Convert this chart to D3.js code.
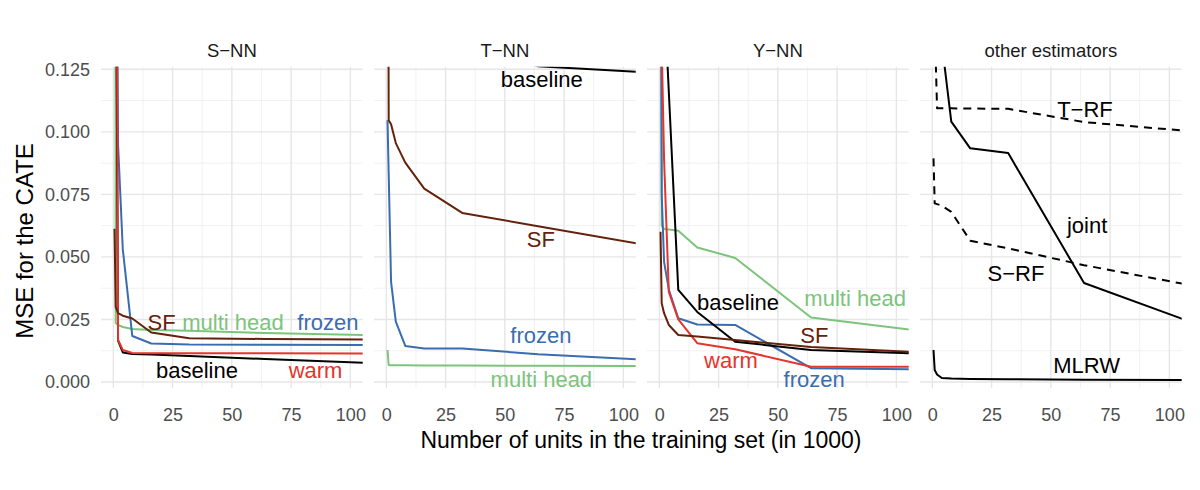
<!DOCTYPE html>
<html>
<head>
<meta charset="utf-8">
<script src="https://cdn.jsdelivr.net/npm/d3@7"></script>
<style>
  html, body { margin: 0; padding: 0; background: #ffffff; }
  svg { display: block; font-family: "Liberation Sans", Arial, Helvetica, sans-serif; }
</style>
</head>
<body>
<script>
// ---------------- data ----------------
const xValues = [0.5, 1, 2, 4, 8, 16, 32, 64, 128]; // training units (in 1000)
const panelNames = ["S\u2212NN", "T\u2212NN", "Y\u2212NN", "other estimators"];
const xTicks = [0, 25, 50, 75, 100];
const xMinor = [12.5, 37.5, 62.5, 87.5];
const yTicks = [0, 0.025, 0.05, 0.075, 0.1, 0.125];
const yMinor = [0.0125, 0.0375, 0.0625, 0.0875, 0.1125];

// S-NN
const snnMulti    = [0.6, 0.0236, 0.0228, 0.0220, 0.0212, 0.0208, 0.0205, 0.0196, 0.0184];
const snnFrozen   = [0.5, 0.25, 0.095, 0.053, 0.0184, 0.0154, 0.0150, 0.0149, 0.0147];
const snnBaseline = [0.5, 0.2, 0.0165, 0.0118, 0.0112, 0.0110, 0.0104, 0.0092, 0.0069];
const snnWarm     = [0.6, 0.3, 0.0168, 0.0128, 0.0116, 0.0115, 0.0115, 0.0115, 0.0113];
const snnSF       = [0.0613, 0.0300, 0.0275, 0.0265, 0.0254, 0.0198, 0.0175, 0.0172, 0.0168];
// T-NN
const tnnBaseline = [0.6, 0.5, 0.4, 0.3, 0.2, 0.15, 0.135, 0.1262, 0.1228];
const tnnSF       = [0.3, 0.1046, 0.1030, 0.0955, 0.0877, 0.0773, 0.0676, 0.0623, 0.0517];
const tnnFrozen   = [0.1046, 0.083, 0.040, 0.0241, 0.0144, 0.0134, 0.0134, 0.0111, 0.0080];
const tnnMulti    = [0.0128, 0.0068, 0.0067, 0.0067, 0.0067, 0.0066, 0.0066, 0.0065, 0.0063];
// Y-NN
const ynnMulti    = [0.6, 0.0625, 0.0612, 0.0610, 0.0605, 0.0538, 0.0496, 0.0258, 0.0183];
const ynnFrozen   = [0.2, 0.075, 0.048, 0.037, 0.0255, 0.0230, 0.0228, 0.0055, 0.0049];
const ynnBaseline = [0.6, 0.4, 0.156, 0.116, 0.0368, 0.0280, 0.0161, 0.0128, 0.0108];
const ynnWarm     = [0.5, 0.135, 0.089, 0.036, 0.025, 0.0155, 0.0131, 0.0061, 0.0061];
const ynnSF       = [0.0601, 0.0315, 0.0275, 0.0228, 0.0188, 0.0182, 0.0168, 0.0140, 0.0110];
// other estimators
const otherTRF    = [0.25, 0.143, 0.1094, 0.1094, 0.1094, 0.1093, 0.1092, 0.1039, 0.0987];
const otherJoint  = [0.5, 0.4, 0.3, 0.1354, 0.1041, 0.0934, 0.0915, 0.0396, 0.0174];
const otherSRF    = [0.0894, 0.0714, 0.0711, 0.0705, 0.0680, 0.0565, 0.0534, 0.0467, 0.0353];
const otherMLRW   = [0.0128, 0.0048, 0.0030, 0.0016, 0.0014, 0.0012, 0.0011, 0.0009, 0.0008];

// direct labels (text, x in 1000 units, y in MSE)
const snnLabels = [["SF", 20.4, 0.0208, "sf"], ["multi head", 50.5, 0.0208, "multi"], ["frozen", 90.5, 0.0208, "frozen"],
                   ["baseline", 35.3, 0.0016, "baseline"], ["warm", 85.3, 0.0016, "warm"]];
const tnnLabels = [["baseline", 65.6, 0.1180, "baseline"], ["SF", 65.2, 0.0541, "sf"],
                   ["frozen", 65.2, 0.0155, "frozen"], ["multi head", 65.4, -0.0019, "multi"]];
const ynnLabels = [["baseline", 33.2, 0.0288, "baseline"], ["multi head", 82.6, 0.0304, "multi"],
                   ["SF", 65.4, 0.0155, "sf"], ["warm", 30.2, 0.0055, "warm"], ["frozen", 65.3, -0.0019, "frozen"]];
const otherLabels = [["T\u2212RF", 64.4, 0.1061, "baseline"], ["joint", 65.3, 0.0597, "baseline"],
                     ["S\u2212RF", 35.3, 0.0405, "baseline"], ["MLRW", 65.1, 0.0035, "baseline"]];

// ---------------- styles ----------------
const colors = { baseline: "#000000", sf: "#64220c", multi: "#7cc47c", frozen: "#3a6db0", warm: "#e5342b" };

const panels = [
  { name: panelNames[0], labels: snnLabels, series: [
      { v: snnMulti, c: "multi" }, { v: snnFrozen, c: "frozen" }, { v: snnBaseline, c: "baseline" },
      { v: snnWarm, c: "warm" }, { v: snnSF, c: "sf" } ] },
  { name: panelNames[1], labels: tnnLabels, series: [
      { v: tnnMulti, c: "multi" }, { v: tnnFrozen, c: "frozen" }, { v: tnnBaseline, c: "baseline" },
      { v: tnnSF, c: "sf" } ] },
  { name: panelNames[2], labels: ynnLabels, series: [
      { v: ynnMulti, c: "multi" }, { v: ynnFrozen, c: "frozen" }, { v: ynnBaseline, c: "baseline" },
      { v: ynnWarm, c: "warm" }, { v: ynnSF, c: "sf" } ] },
  { name: panelNames[3], labels: otherLabels, series: [
      { v: otherTRF, c: "baseline", dash: true }, { v: otherSRF, c: "baseline", dash: true },
      { v: otherJoint, c: "baseline" }, { v: otherMLRW, c: "baseline" } ] }
];

// ---------------- layout ----------------
const W = 1200, H = 490;
const left0 = 101, panelW = 261.7, step = 273;
const panelTop = 66.7, panelBottom = 388;

const svg = d3.select("body").append("svg").attr("width", W).attr("height", H);
svg.append("rect").attr("width", W).attr("height", H).attr("fill", "#ffffff");

const y = d3.scaleLinear().domain([0, 0.125]).range([382, 69.3]);

panels.forEach((p, i) => {
  const L = left0 + i * step;
  const x = d3.scaleLinear().domain([-5.2, 105.2]).range([L, L + panelW]);
  const g = svg.append("g");

  // grid
  g.selectAll(".ymin").data(yMinor).enter().append("line")
    .attr("x1", L).attr("x2", L + panelW).attr("y1", d => y(d)).attr("y2", d => y(d))
    .attr("stroke", "#efefef").attr("stroke-width", 0.9);
  g.selectAll(".xmin").data(xMinor).enter().append("line")
    .attr("y1", panelTop).attr("y2", panelBottom).attr("x1", d => x(d)).attr("x2", d => x(d))
    .attr("stroke", "#efefef").attr("stroke-width", 0.9);
  g.selectAll(".ymaj").data(yTicks).enter().append("line")
    .attr("x1", L).attr("x2", L + panelW).attr("y1", d => y(d)).attr("y2", d => y(d))
    .attr("stroke", "#e6e6e6").attr("stroke-width", 1.4);
  g.selectAll(".xmaj").data(xTicks).enter().append("line")
    .attr("y1", panelTop).attr("y2", panelBottom).attr("x1", d => x(d)).attr("x2", d => x(d))
    .attr("stroke", "#e6e6e6").attr("stroke-width", 1.4);

  // clip
  const clipId = "clip" + i;
  svg.append("clipPath").attr("id", clipId).append("rect")
    .attr("x", L).attr("y", panelTop).attr("width", panelW).attr("height", panelBottom - panelTop);

  const line = d3.line().x(d => x(d[0])).y(d => y(d[1]));
  const lg = g.append("g").attr("clip-path", `url(#${clipId})`);
  p.series.forEach(s => {
    lg.append("path")
      .attr("d", line(xValues.map((xv, k) => [xv, s.v[k]])))
      .attr("fill", "none")
      .attr("stroke", colors[s.c])
      .attr("stroke-width", 2)
      .attr("stroke-linejoin", "round")
      .attr("stroke-dasharray", s.dash ? "8,6" : null);
  });

  // labels
  g.selectAll(".lab").data(p.labels).enter().append("text")
    .attr("x", d => x(d[1])).attr("y", d => y(d[2]))
    .attr("text-anchor", "middle")
    .attr("font-size", 22)
    .attr("fill", d => colors[d[3]])
    .text(d => d[0]);

  // strip title
  g.append("text").attr("x", L + panelW / 2).attr("y", 56.7)
    .attr("text-anchor", "middle").attr("font-size", 18.5).attr("fill", "#1a1a1a")
    .text(p.name);

  // x axis
  const ax = svg.append("g").attr("transform", `translate(0,${panelBottom})`)
    .call(d3.axisBottom(x).tickValues(xTicks).tickSize(0).tickPadding(20.5));
  ax.select(".domain").remove();
  ax.selectAll("text").attr("font-size", 18).attr("fill", "#4d4d4d")
    .style("font-family", "'Liberation Sans', Arial, sans-serif");

  if (i === 0) {
    const ay = svg.append("g").attr("transform", `translate(${L},0)`)
      .call(d3.axisLeft(y).tickValues(yTicks).tickFormat(d3.format(".3f")).tickSize(0).tickPadding(11));
    ay.select(".domain").remove();
    ay.selectAll("text").attr("font-size", 18).attr("fill", "#4d4d4d")
      .style("font-family", "'Liberation Sans', Arial, sans-serif");
  }
});

// axis titles
svg.append("text").attr("x", 641).attr("y", 448).attr("text-anchor", "middle")
  .attr("font-size", 23).attr("fill", "#000").text("Number of units in the training set (in 1000)");
svg.append("text").attr("transform", "translate(33,241) rotate(-90)").attr("text-anchor", "middle")
  .attr("font-size", 24).attr("fill", "#000").text("MSE for the CATE");
</script>
</body>
</html>
